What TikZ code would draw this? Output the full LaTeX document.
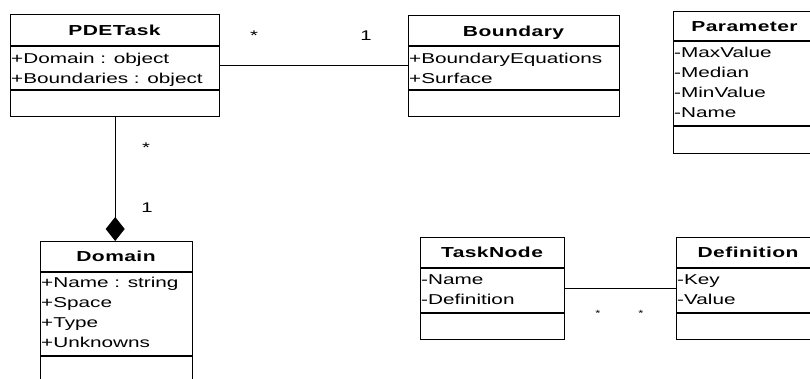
\documentclass[tikz,border=0pt]{standalone}
\usepackage{fontspec}
\setmainfont{Liberation Sans}[FakeStretch=1.45]
\usetikzlibrary{arrows.meta}
\begin{document}
\begin{tikzpicture}[x=1pt,y=-1pt,
  cls/.style={draw, line width=1.4pt, anchor=north west, inner sep=0pt},
  sepline/.style={line width=1.4pt},
  ttl/.style={anchor=base, inner sep=0pt, font=\fontsize{14.5}{20}\selectfont\bfseries\addfontfeature{LetterSpace=3}},
  attr/.style={anchor=base west, inner sep=0pt, font=\fontsize{14.3}{20}\selectfont},
  mult/.style={anchor=base, inner sep=0pt, font=\fontsize{14}{20}\selectfont},
  smallmult/.style={anchor=base, inner sep=0pt, font=\fontsize{9}{10}\selectfont},
  assoc/.style={line width=1.2pt}]
\useasboundingbox (0,0) rectangle (810,378);

% PDETask
\node[cls, minimum width=209, minimum height=102] (pde) at (10,14) {};
\draw[sepline] (10,46) -- (219,46) (10,90) -- (219,90);
\node[ttl] (pdet) at (114.5,35) {PDETask};
\foreach \t [count=\i from 0] in {+Domain : object, +Boundaries : object}
  \node[attr] (pdea\i) at (11,63+20*\i) {\t};

% Boundary
\node[cls, minimum width=211, minimum height=101] (bnd) at (408,15) {};
\draw[sepline] (408,46) -- (619,46) (408,90) -- (619,90);
\node[ttl] (bndt) at (513.5,36) {Boundary};
\foreach \t [count=\i from 0] in {+BoundaryEquations, +Surface}
  \node[attr] (bnda\i) at (409,63+20*\i) {\t};

% Parameter
\node[cls, minimum width=143, minimum height=142] (par) at (673,11) {};
\draw[sepline] (673,41) -- (816,41) (673,126) -- (816,126);
\node[ttl] (part) at (744.5,31) {Parameter};
\foreach \t [count=\i from 0] in {-MaxValue, -Median, -MinValue, -Name}
  \node[attr] (para\i) at (674,57+20.3*\i) {\t};

% Domain
\node[cls, minimum width=152, minimum height=150] (dom) at (40,241) {};
\draw[sepline] (40,272) -- (192,272) (40,356) -- (192,356);
\node[ttl] (domt) at (116,261.5) {Domain};
\foreach \t [count=\i from 0] in {+Name : string, +Space, +Type, +Unknowns}
  \node[attr] (doma\i) at (41,287+20*\i) {\t};

% TaskNode
\node[cls, minimum width=144, minimum height=102] (tn) at (420,237) {};
\draw[sepline] (420,268) -- (564,268) (420,313) -- (564,313);
\node[ttl] (tnt) at (492,257.5) {TaskNode};
\foreach \t [count=\i from 0] in {-Name, -Definition}
  \node[attr] (tna\i) at (421,284+20*\i) {\t};

% Definition
\node[cls, minimum width=144, minimum height=102] (def) at (676,237) {};
\draw[sepline] (676,268) -- (820,268) (676,313) -- (820,313);
\node[ttl] (deft) at (748,257.5) {Definition};
\foreach \t [count=\i from 0] in {-Key, -Value}
  \node[attr] (defa\i) at (677,284+20*\i) {\t};

% connectors
\draw[assoc] (pde.east) -- (pde.east -| bnd.west);
\node[mult] (m1) at (254,40) {*};
\node[mult] (m2) at (366,40) {1};

\draw[assoc, -{Diamond[length=24pt,width=19pt]}] (pde.south) -- (pde.south |- dom.north);
\node[mult] (m3) at (146,152) {*};
\node[mult] (m4) at (147,212) {1};

\draw[assoc] (tn.east) -- (tn.east -| def.west);
\node[smallmult] (m5) at (598,316.5) {*};
\node[smallmult] (m6) at (641,316.5) {*};
\end{tikzpicture}
\end{document}
